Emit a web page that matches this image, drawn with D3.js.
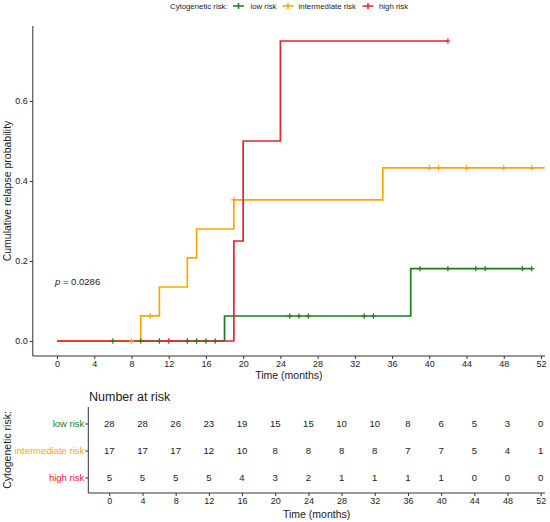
<!DOCTYPE html>
<html>
<head>
<meta charset="utf-8">
<script src="https://cdn.jsdelivr.net/npm/d3@7"></script>
<style>
  html, body { margin: 0; padding: 0; background: #fff; }
  svg { display: block; font-family: "Liberation Sans", Arial, Helvetica, sans-serif; }
</style>
</head>
<body>
<svg id="chart" width="550" height="522"></svg>
<script>
// ---------------- DATA ----------------
const strata = ["low risk", "intermediate risk", "high risk"];
const monthTicks = [0, 4, 8, 12, 16, 20, 24, 28, 32, 36, 40, 44, 48, 52];
const probTicks = [0, 0.2, 0.4, 0.6];

// cumulative incidence step curves (event times and value after each step)
const lowTimes = [0, 18, 38];
const lowCum = [0, 0.0625, 0.181];
const lowEnd = 51;
const lowCensor = [6, 9, 11, 14, 15, 16, 17, 25, 26, 27, 33, 34, 39, 42, 45, 46, 50, 51];

const intTimes = [0, 9, 11, 14, 15, 19, 35];
const intCum = [0, 0.063, 0.135, 0.208, 0.28, 0.353, 0.433];
const intEnd = 52.4;
const intCensor = [8, 10, 19, 40, 41, 44, 48, 51];

const highTimes = [0, 19, 20, 24];
const highCum = [0, 0.25, 0.5, 0.75];
const highEnd = 42;
const highCensor = [12, 42];

// number at risk at each month tick
const riskLow = [28, 28, 26, 23, 19, 15, 15, 10, 10, 8, 6, 5, 3, 0];
const riskInt = [17, 17, 17, 12, 10, 8, 8, 8, 8, 7, 7, 5, 4, 1];
const riskHigh = [5, 5, 5, 5, 4, 3, 2, 1, 1, 1, 1, 0, 0, 0];

const pValueText = "0.0286";

// ---------------- STYLE ----------------
const colors = ["#1e7b1e", "#ffa500", "#f0202a"];
const axisColor = "#333";
const textColor = "#1a1a1a";

const series = [
  { name: strata[0], times: lowTimes, cum: lowCum, end: lowEnd, censor: lowCensor, color: colors[0], risk: riskLow },
  { name: strata[1], times: intTimes, cum: intCum, end: intEnd, censor: intCensor, color: colors[1], risk: riskInt },
  { name: strata[2], times: highTimes, cum: highCum, end: highEnd, censor: highCensor, color: colors[2], risk: riskHigh }
];

const svg = d3.select("#chart");

// ---------------- MAIN PLOT ----------------
const x = d3.scaleLinear().domain([0, 52]).range([57, 541]);
const y = d3.scaleLinear().domain([0, 0.75]).range([341, 41]);
const xLeft = x(-2.6), xRight = 545;
const yTop = y(0.7875), yBottom = y(-0.0375);

const g = svg.append("g");

// axes
const xAxis = d3.axisBottom(x).tickValues(monthTicks).tickSize(3).tickPadding(2).tickFormat(d3.format("d"));
const gx = g.append("g").attr("transform", `translate(0,${yBottom})`).call(xAxis);
gx.select(".domain").remove();
gx.append("line").attr("x1", xLeft).attr("x2", xRight).attr("y1", 0).attr("y2", 0)
  .attr("stroke", axisColor).attr("stroke-width", 1);
gx.selectAll(".tick line").attr("stroke", axisColor);
gx.selectAll(".tick text").attr("fill", textColor).style("font-size", "9px");

const yAxis = d3.axisLeft(y).tickValues(probTicks).tickSize(3).tickPadding(2).tickFormat(d3.format(".1f"));
const gy = g.append("g").attr("transform", `translate(${xLeft},0)`).call(yAxis);
gy.select(".domain").remove();
gy.append("line").attr("x1", 0).attr("x2", 0).attr("y1", yTop).attr("y2", yBottom)
  .attr("stroke", axisColor).attr("stroke-width", 1);
gy.selectAll(".tick line").attr("stroke", axisColor);
gy.selectAll(".tick text").attr("fill", textColor).style("font-size", "9px");

// axis titles
g.append("text").attr("x", (xLeft + xRight) / 2).attr("y", 379)
  .attr("text-anchor", "middle").style("font-size", "10.5px").attr("fill", textColor)
  .text("Time (months)");
g.append("text").attr("transform", `translate(11,${(yTop + yBottom) / 2}) rotate(-90)`)
  .attr("text-anchor", "middle").style("font-size", "10.5px").attr("fill", textColor)
  .text("Cumulative relapse probability");

// step lines
const line = d3.line().x(d => x(d[0])).y(d => y(d[1])).curve(d3.curveStepAfter);
function stepValue(s, t) {
  let v = s.cum[0];
  for (let i = 0; i < s.times.length; i++) if (s.times[i] <= t) v = s.cum[i];
  return v;
}
series.forEach(s => {
  const pts = s.times.map((t, i) => [t, s.cum[i]]);
  pts.push([s.end, s.cum[s.cum.length - 1]]);
  g.append("path").datum(pts).attr("d", line)
    .attr("fill", "none").attr("stroke", s.color).attr("stroke-width", 1.7);
});
// censor marks
series.forEach(s => {
  g.append("g").selectAll("path").data(s.censor).join("path")
    .attr("d", t => {
      const cx = x(t), cy = y(stepValue(s, t));
      return `M${cx},${cy - 2.7}V${cy + 2.7}M${cx - 2.7},${cy}H${cx + 2.7}`;
    })
    .attr("stroke", s.color).attr("stroke-width", 1.2).attr("fill", "none");
});

// p-value
const pText = g.append("text").attr("x", 55).attr("y", 285).style("font-size", "9.5px").attr("fill", textColor);
pText.append("tspan").style("font-style", "italic").text("p");
pText.append("tspan").text(" = " + pValueText);

// ---------------- LEGEND ----------------
const leg = svg.append("g").style("font-size", "7.8px").attr("fill", textColor);
leg.append("text").attr("x", 170).attr("y", 9).text("Cytogenetic risk:");
const legKeyX = [233, 282.5, 362.5];
const legTextX = [250.5, 298.6, 379];
series.forEach((s, i) => {
  const kx = legKeyX[i], ky = 6;
  leg.append("path")
    .attr("d", `M${kx},${ky}H${kx + 11}M${kx + 5.5},${ky - 3}V${ky + 3}`)
    .attr("stroke", s.color).attr("stroke-width", 1.5).attr("fill", "none");
  leg.append("text").attr("x", legTextX[i]).attr("y", 9).text(s.name);
});

// ---------------- RISK TABLE ----------------
const tx = d3.scaleLinear().domain([0, 52]).range([109.3, 540.7]);
const ty = d3.scalePoint().domain(strata).range([423.5, 477.5]);
const tLeft = 88.3, tRight = 545, tTop = 407, tBottom = 493;
const tg = svg.append("g");

tg.append("text").attr("x", 89).attr("y", 400.5).style("font-size", "12.5px").attr("fill", textColor)
  .text("Number at risk");

const txAxis = d3.axisBottom(tx).tickValues(monthTicks).tickSize(3).tickPadding(2).tickFormat(d3.format("d"));
const gtx = tg.append("g").attr("transform", `translate(0,${tBottom})`).call(txAxis);
gtx.select(".domain").remove();
gtx.append("line").attr("x1", tLeft).attr("x2", tRight).attr("stroke", axisColor);
gtx.selectAll(".tick line").attr("stroke", axisColor);
gtx.selectAll(".tick text").attr("fill", textColor).style("font-size", "9px");

const tyAxis = d3.axisLeft(ty).tickSize(3).tickPadding(1);
const gty = tg.append("g").attr("transform", `translate(${tLeft},0)`).call(tyAxis);
gty.select(".domain").remove();
gty.append("line").attr("y1", tTop).attr("y2", tBottom).attr("stroke", axisColor);
gty.selectAll(".tick line").attr("stroke", axisColor);
gty.selectAll(".tick text").style("font-size", "9.5px")
  .attr("fill", d => colors[strata.indexOf(d)]);

series.forEach(s => {
  tg.append("g").selectAll("text").data(s.risk).join("text")
    .attr("x", (d, i) => tx(monthTicks[i]))
    .attr("y", ty(s.name))
    .attr("dy", "0.35em")
    .attr("text-anchor", "middle")
    .style("font-size", "9.6px").attr("fill", textColor)
    .text(d => d);
});

tg.append("text").attr("x", (tLeft + tRight) / 2).attr("y", 518)
  .attr("text-anchor", "middle").style("font-size", "10.5px").attr("fill", textColor)
  .text("Time (months)");
tg.append("text").attr("transform", `translate(11,${(tTop + tBottom) / 2}) rotate(-90)`)
  .attr("text-anchor", "middle").style("font-size", "10.5px").attr("fill", textColor)
  .text("Cytogenetic risk:");
</script>
</body>
</html>
